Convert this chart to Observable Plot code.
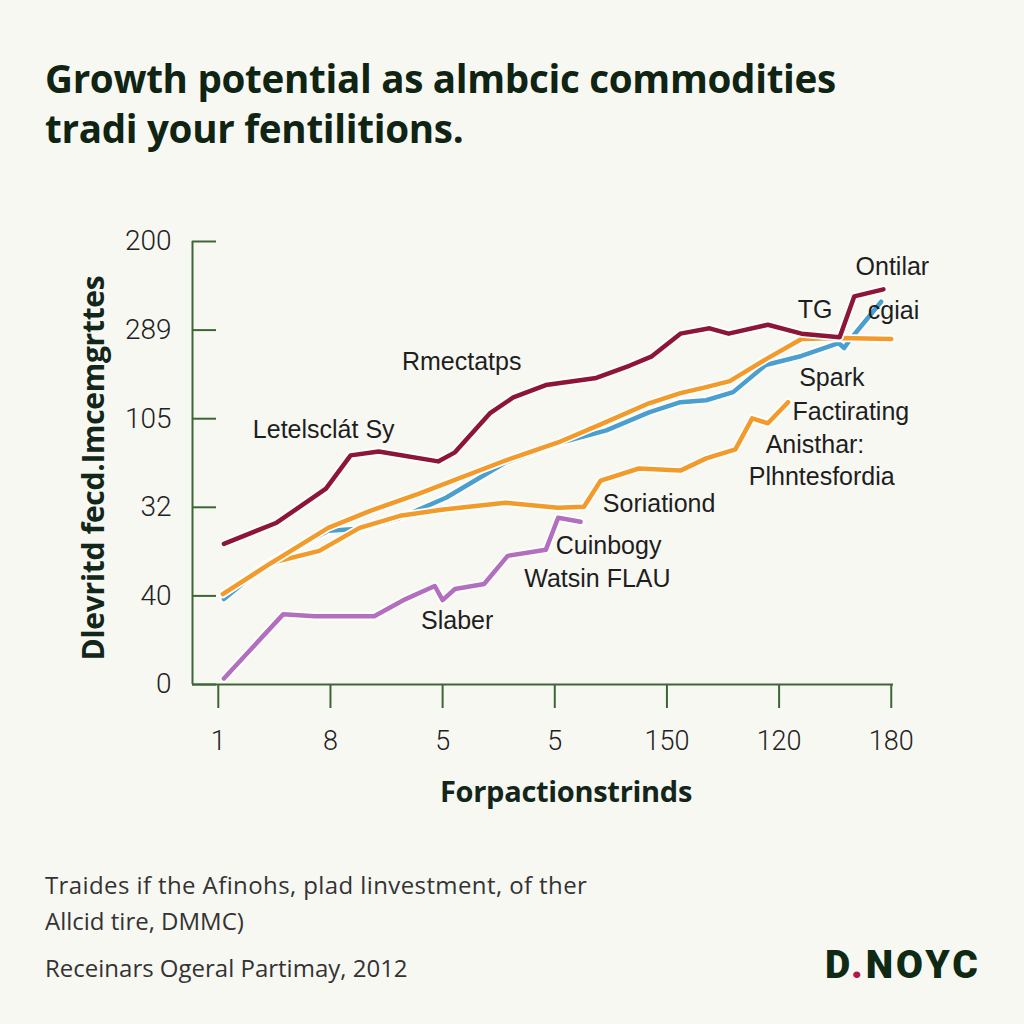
<!DOCTYPE html>
<html>
<head>
<meta charset="utf-8">
<script src="https://cdn.jsdelivr.net/npm/d3@7"></script>
<script src="https://cdn.jsdelivr.net/npm/@observablehq/plot@0.6"></script>
<style>
  html, body { margin: 0; padding: 0; background: #f8f8f3; }
  #page { position: relative; width: 1024px; height: 1024px; overflow: hidden; background: #f8f8f3; font-family: Roboto, "Liberation Sans", sans-serif; }
  #title { position: absolute; left: 45px; top: 53px; font-family: "Open Sans", Roboto, sans-serif; font-size: 38.6px; font-weight: 700; line-height: 50px; color: #0f2413; white-space: nowrap; letter-spacing: -0.3px; }
  #chart { position: absolute; left: 0; top: 0; }
  #ytitle { position: absolute; left: 92px; top: 468px; transform: translate(-50%, -50%) rotate(-90deg); font-family: "Open Sans", Roboto, sans-serif; font-size: 30px; font-weight: 700; color: #13261a; white-space: nowrap; letter-spacing: -0.3px; }
  #xtitle { position: absolute; left: 566px; top: 790px; transform: translate(-50%, -50%); font-family: "Open Sans", Roboto, sans-serif; font-size: 29px; font-weight: 700; color: #13261a; white-space: nowrap; letter-spacing: -0.3px; }
  .cap { position: absolute; left: 45px; font-family: "Open Sans", Roboto, sans-serif; font-size: 24px; font-weight: 400; color: #333; white-space: nowrap; }
  #logo { position: absolute; left: 825px; top: 965px; transform: translateY(-50%); font-size: 39px; font-weight: 900; letter-spacing: 3px; color: #0f2a14; white-space: nowrap; }
  #logo span { color: #b0164a; }
</style>
</head>
<body>
<div id="page">
  <div id="title">Growth potential as almbcic commodities<br>tradi your fentilitions.</div>
  <div id="chart"></div>
  <div id="ytitle">Dlevritd fecd.Imcemgrttes</div>
  <div id="xtitle">Forpactionstrinds</div>
  <div class="cap" style="top:868px; letter-spacing: 0.4px">Traides if the Afinohs, plad linvestment, of ther</div>
  <div class="cap" style="top:904px">Allcid tire, DMMC)</div>
  <div class="cap" style="top:951px">Receinars Ogeral Partimay, 2012</div>
  <div id="logo">D<span>.</span>NOYC</div>
</div>
<script>
// ---- tick positions and labels ----
const xTicks = [0, 1, 2, 3, 4, 5, 6];
const xTickLabels = ["1", "8", "5", "5", "150", "120", "180"];
const yTicks = [0, 50, 100, 150, 200, 250];
const yTickLabels = ["0", "40", "32", "105", "289", "200"];

// ---- series (x in tick-index units, y in axis units) ----
const crimsonX = [0.05, 0.52, 0.96, 1.18, 1.43, 1.96, 2.11, 2.42, 2.63, 2.92, 3.37, 3.67, 3.86, 4.12, 4.38, 4.55, 4.90, 5.20, 5.54, 5.67, 5.93];
const crimsonY = [79.4, 91.3, 110.5, 129.3, 131.5, 125.9, 131, 153, 162, 169, 173, 180, 185, 198, 201, 198, 203, 198, 196, 219, 223];

const blueX = [0.05, 0.43, 0.98, 1.26, 1.62, 2.03, 2.56, 3.03, 3.46, 3.84, 4.12, 4.35, 4.59, 4.88, 5.20, 5.53, 5.58, 5.63, 5.91];
const blueY = [48.2, 68.0, 86.7, 87.9, 94.1, 105.4, 125.3, 136.1, 143.4, 153.6, 159.3, 160.4, 165, 180.3, 185.4, 192.7, 189.9, 194.4, 216];

const orangeX = [0.04, 0.43, 0.98, 1.36, 1.79, 2.56, 3.03, 3.43, 3.84, 4.12, 4.35, 4.56, 4.90, 5.20, 5.54, 6.0];
const orangeY = [51, 66.9, 88.4, 98.1, 107.7, 126.4, 136.6, 147.4, 158.7, 164.4, 167.8, 171.2, 184.2, 195, 195.6, 195];

const orange2X = [0.04, 0.43, 0.90, 1.26, 1.62, 1.99, 2.56, 3.03, 3.26, 3.41, 3.75, 4.12, 4.35, 4.61, 4.76, 4.90, 5.08];
const orange2Y = [51, 68, 75.4, 88.4, 95.2, 98.6, 102.6, 99.8, 100.3, 115.1, 121.9, 120.7, 127.6, 132.7, 150.2, 147.4, 159.3];

const purpleX = [0.05, 0.58, 0.86, 1.39, 1.67, 1.93, 2.0, 2.11, 2.37, 2.58, 2.92, 3.03, 3.23];
const purpleY = [3.4, 39.7, 38.5, 38.5, 48.2, 55.6, 47.6, 53.9, 56.7, 72.6, 76, 94.1, 91.8];

// ---- annotation labels ----
const labelText = ["Ontilar", "TG", "cgiai", "Rmectatps", "Letelsclát Sy", "Spark", "Factirating", "Anisthar:", "Plhntesfordia", "Soriationd", "Cuinbogy", "Watsin FLAU", "Slaber"];
const labelX = [6.01, 5.32, 6.02, 2.17, 0.94, 5.47, 5.64, 5.32, 5.38, 3.93, 3.48, 3.38, 2.13];
const labelY = [235.8, 211.5, 210.9, 182, 143.4, 172.9, 153.6, 134.9, 117.3, 102, 78.2, 59.5, 35.7];

const colors = {crimson: "#8c1538", blue: "#4a9fcf", orange: "#f29b2a", purple: "#b26fbd", axis: "#3d6636"};

function toRows(xs, ys) { return xs.map((x, i) => ({x, y: ys[i]})); }
const series = [
  {rows: toRows(purpleX, purpleY), color: colors.purple},
  {rows: toRows(blueX, blueY), color: colors.blue},
  {rows: toRows(orange2X, orange2Y), color: colors.orange},
  {rows: toRows(orangeX, orangeY), color: colors.orange},
  {rows: toRows(crimsonX, crimsonY), color: colors.crimson}
];
const labels = labelText.map((t, i) => ({t, x: labelX[i], y: labelY[i]}));

const lineMarks = [];
for (const s of series) {
  lineMarks.push(Plot.line(s.rows, {x: "x", y: "y", stroke: "#ffffff", strokeWidth: 8, strokeLinejoin: "round", strokeLinecap: "round"}));
  lineMarks.push(Plot.line(s.rows, {x: "x", y: "y", stroke: s.color, strokeWidth: 4.5, strokeLinejoin: "round", strokeLinecap: "round"}));
}

const chart = Plot.plot({
  width: 1024,
  height: 830,
  marginLeft: 192,
  marginRight: 131,
  marginTop: 241,
  marginBottom: 146,
  style: {background: "transparent", overflow: "visible"},
  x: {domain: [-0.23, 6.02], axis: null},
  y: {domain: [0, 250], axis: null},
  marks: [
    Plot.ruleY(yTicks, {stroke: colors.axis, strokeWidth: 2, insetRight: 677}),
    Plot.ruleX([-0.23], {stroke: colors.axis, strokeWidth: 2}),
    Plot.ruleY([0], {stroke: colors.axis, strokeWidth: 2}),
    Plot.axisY({ticks: yTicks, tickFormat: d => yTickLabels[yTicks.indexOf(d)], tickSize: 0, tickPadding: 21, fill: "#222", fontSize: 28, fontFamily: "Roboto", fontWeight: 300, label: null}),
    Plot.axisX({ticks: xTicks, tickFormat: d => xTickLabels[xTicks.indexOf(d)], tickSize: 24, tickPadding: 22, stroke: colors.axis, strokeWidth: 2, fill: "#222", fontSize: 27, fontFamily: "Roboto", fontWeight: 300, label: null}),
    ...lineMarks,
    Plot.text(labels, {x: "x", y: "y", text: "t", fill: "#1e1e1e", fontSize: 25, fontFamily: "Liberation Sans", textAnchor: "middle", lineAnchor: "middle"})
  ]
});
document.getElementById("chart").appendChild(chart);
</script>
</body>
</html>
